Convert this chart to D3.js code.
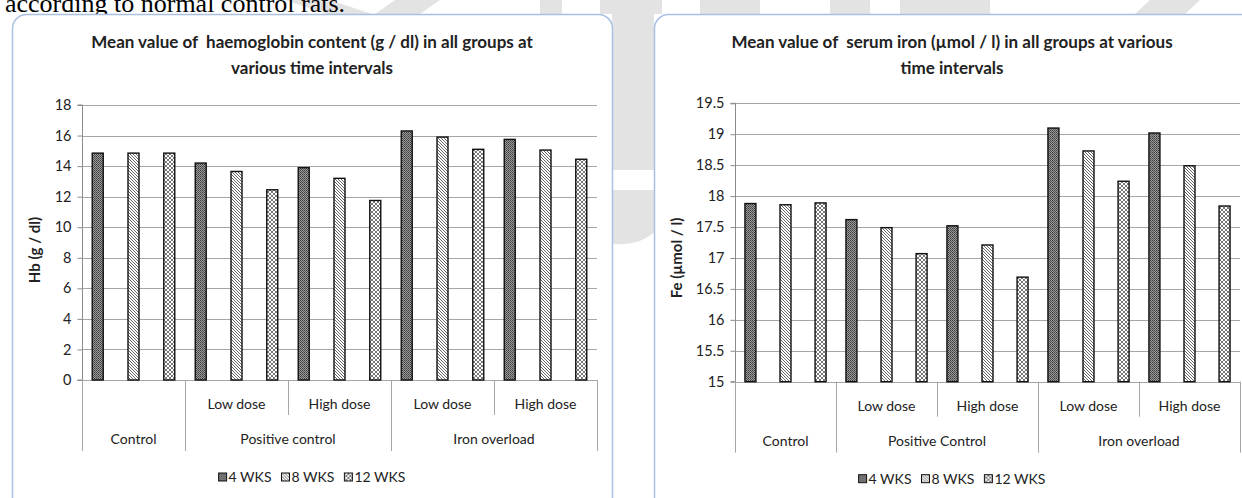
<!DOCTYPE html>
<html><head><meta charset="utf-8">
<script src="https://cdn.jsdelivr.net/npm/d3@7"></script>
<style>
html,body{margin:0;padding:0;background:#fff;}
svg{display:block;}
text{font-family:Lato,"Open Sans",sans-serif;fill:#222;}
</style></head>
<body>
<svg id="chart" width="1242" height="498"></svg>
<script>
// ---------- data ----------
const series = ["4 WKS", "8 WKS", "12 WKS"];
const slots = ["Control", "PC Low", "PC High", "IO Low", "IO High"];
const subLabels = ["", "Low dose", "High dose", "Low dose", "High dose"];
const groupSpans = [1, 2, 2];
const hbGroups = ["Control", "Positive control", "Iron overload"];
const feGroups = ["Control", "Positive Control", "Iron overload"];

const hb4  = [14.85, 14.2, 13.9, 16.3, 15.75];
const hb8  = [14.85, 13.65, 13.2, 15.9, 15.05];
const hb12 = [14.85, 12.45, 11.75, 15.1, 14.45];

const fe4  = [17.88, 17.62, 17.52, 19.1, 19.02];
const fe8  = [17.86, 17.49, 17.21, 18.73, 18.49];
const fe12 = [17.89, 17.07, 16.69, 18.24, 17.84];

const hbTicks = ["0", "2", "4", "6", "8", "10", "12", "14", "16", "18"];
const feTicks = ["15", "15.5", "16", "16.5", "17", "17.5", "18", "18.5", "19", "19.5"];

const hbTitle = ["Mean value of  haemoglobin content (g / dl) in all groups at", "various time intervals"];
const feTitle = ["Mean value of  serum iron (\u00b5mol / l) in all groups at various", "time intervals"];
const hbYLabel = "Hb (g / dl)";
const feYLabel = "Fe (\u00b5mol / l)";
const topText = "according to normal control rats.";

// ---------- svg ----------
const svg = d3.select("#chart");
const defs = svg.append("defs");

// patterns
const p4 = defs.append("pattern").attr("id", "pat0").attr("patternUnits", "userSpaceOnUse")
  .attr("width", 2).attr("height", 2);
p4.append("rect").attr("width", 2).attr("height", 2).attr("fill", "#9a9a9a");
p4.append("rect").attr("x", 0).attr("y", 0).attr("width", 1).attr("height", 1).attr("fill", "#3c3c3c");
p4.append("rect").attr("x", 1).attr("y", 1).attr("width", 1).attr("height", 1).attr("fill", "#555");

const p8 = defs.append("pattern").attr("id", "pat1").attr("patternUnits", "userSpaceOnUse")
  .attr("width", 3).attr("height", 3);
p8.append("rect").attr("width", 3).attr("height", 3).attr("fill", "#fff");
p8.append("path").attr("d", "M-1,-1L4,4M-1,2L1,4M2,-1L4,1")
  .attr("stroke", "#555").attr("stroke-width", 0.9);

const p12 = defs.append("pattern").attr("id", "pat2").attr("patternUnits", "userSpaceOnUse")
  .attr("width", 4).attr("height", 4);
p12.append("rect").attr("width", 4).attr("height", 4).attr("fill", "#fff");
p12.append("path").attr("d", "M0,0L4,4M0,4L4,0")
  .attr("stroke", "#555").attr("stroke-width", 0.8);

// ---------- background watermark ----------
const wm = svg.append("g").attr("fill", "#e3e3e3");
wm.append("polygon").attr("points", "285,0 330,0 372,14 327,14");
wm.append("polygon").attr("points", "395,0 440,0 420,14 375,14");
wm.append("rect").attr("x", 540).attr("y", 0).attr("width", 22).attr("height", 14);
wm.append("rect").attr("x", 600).attr("y", 0).attr("width", 62).attr("height", 14);
wm.append("rect").attr("x", 700).attr("y", 0).attr("width", 60).attr("height", 14);
wm.append("rect").attr("x", 830).attr("y", 0).attr("width", 40).attr("height", 14);
wm.append("rect").attr("x", 900).attr("y", 0).attr("width", 90).attr("height", 14);
wm.append("polygon").attr("points", "1150,0 1200,0 1185,14 1135,14");
wm.append("rect").attr("x", 612).attr("y", 0).attr("width", 42).attr("height", 170);
wm.append("path").attr("d", "M612,190H654V232Q640,246 612,244Z");

svg.append("text").attr("x", 5).attr("y", 12)
  .style("font-family", "'Liberation Serif','Times New Roman',serif")
  .style("font-size", "26px").style("fill", "#000").text(topText);

// ---------- chart function ----------
function drawChart(cfg) {
  const g = svg.append("g");
  // panel
  g.append("rect").attr("x", cfg.panel[0]).attr("y", cfg.panel[1])
    .attr("width", cfg.panel[2]).attr("height", cfg.panel[3])
    .attr("rx", 14).attr("fill", "#fff").attr("stroke", "#a9c0e4").attr("stroke-width", 1.5);

  const tickVals = cfg.ticks.map(Number);
  const y = d3.scaleLinear().domain([tickVals[0], tickVals[tickVals.length - 1]])
    .range([cfg.y1, cfg.y0]);
  const x = d3.scaleBand().domain(slots).range([cfg.x0, cfg.x1]).padding(0);
  const xs = d3.scalePoint().domain(series).range([0, x.bandwidth()]).padding(0.44);

  // gridlines
  g.append("g").selectAll("line").data(tickVals).join("line")
    .attr("x1", cfg.x0).attr("x2", cfg.x1)
    .attr("y1", d => Math.round(y(d)) + 0.5).attr("y2", d => Math.round(y(d)) + 0.5)
    .attr("stroke", "#a6a6a6").attr("stroke-width", 1);

  // y axis
  const ya = g.append("g").attr("transform", `translate(${cfg.x0 + 0.5},0)`)
    .call(d3.axisLeft(y).tickValues(tickVals).tickFormat((d, i) => cfg.ticks[i]).tickSize(5).tickPadding(6));
  ya.select(".domain").attr("stroke", "#8c8c8c").attr("d", `M-5,${y(tickVals[0])}H0V${y(tickVals[tickVals.length-1])}H-5`);
  ya.selectAll(".tick line").attr("stroke", "#8c8c8c");
  ya.selectAll(".tick text").style("font-family", "Lato,sans-serif").style("font-size", "14.5px").attr("fill", "#222");

  // bars
  const vals = [cfg.s4, cfg.s8, cfg.s12];
  const bw = 11;
  series.forEach((s, si) => {
    g.append("g").selectAll("rect").data(vals[si]).join("rect")
      .attr("x", (d, i) => x(slots[i]) + xs(s) - bw / 2)
      .attr("y", d => y(d))
      .attr("width", bw)
      .attr("height", d => y(tickVals[0]) - y(d))
      .attr("fill", `url(#pat${si})`)
      .attr("stroke", "#111").attr("stroke-width", 1.4);
  });

  // category axis separators
  const base = y(tickVals[0]);
  const groupEdges = [0];
  groupSpans.forEach(s => groupEdges.push(groupEdges[groupEdges.length - 1] + s));
  const bounds = d3.range(slots.length + 1);
  g.append("g").selectAll("line").data(bounds).join("line")
    .attr("x1", i => Math.round(i < slots.length ? x(slots[i]) : cfg.x1) + 0.5)
    .attr("x2", i => Math.round(i < slots.length ? x(slots[i]) : cfg.x1) + 0.5)
    .attr("y1", base)
    .attr("y2", i => base + (groupEdges.includes(i) ? 71 : 35))
    .attr("stroke", "#a6a6a6").attr("stroke-width", 1);

  // sub labels
  g.append("g").selectAll("text").data(subLabels).join("text")
    .attr("x", (d, i) => x(slots[i]) + x.bandwidth() / 2)
    .attr("y", base + 29)
    .attr("text-anchor", "middle")
    .style("font-size", "14px").text(d => d);

  // group labels
  g.append("g").selectAll("text").data(cfg.groups).join("text")
    .attr("x", (d, i) => {
      const a = x(slots[groupEdges[i]]);
      const b = groupEdges[i + 1] < slots.length ? x(slots[groupEdges[i + 1]]) : cfg.x1;
      return (a + b) / 2;
    })
    .attr("y", base + 64)
    .attr("text-anchor", "middle")
    .style("font-size", "14px").text(d => d);

  // title
  g.append("g").selectAll("text").data(cfg.title).join("text")
    .attr("x", cfg.cx).attr("y", (d, i) => 48 + i * 26)
    .attr("text-anchor", "middle")
    .style("white-space", "pre")
    .style("font-weight", "bold").style("font-size", "17px").attr("fill", "#000")
    .text(d => d);

  // y label
  g.append("text")
    .attr("transform", `translate(${cfg.ylx},${cfg.yly}) rotate(-90)`)
    .attr("text-anchor", "middle")
    .style("font-weight", "bold").style("font-size", "15px").attr("fill", "#000")
    .text(cfg.ylabel);

  // legend
  const lg = g.append("g");
  const items = lg.selectAll("g").data(series).join("g");
  items.append("rect").attr("width", 8).attr("height", 8).attr("y", -9)
    .attr("fill", (d, i) => `url(#pat${i})`).attr("stroke", "#111").attr("stroke-width", 1);
  items.append("text").attr("x", 10).attr("y", 0).style("font-size", "14px").text(d => d);
  let off = 0;
  const widths = [];
  items.each(function () {
    const w = this.querySelector("text").getComputedTextLength() + 10;
    widths.push(w);
  });
  const total = d3.sum(widths) + 10 * (widths.length - 1);
  items.attr("transform", (d, i) => {
    const t = `translate(${cfg.cx - total / 2 + off},${base + 102})`;
    off += widths[i] + 10;
    return t;
  });
}

drawChart({
  panel: [12.5, 14.5, 600, 520], cx: 312,
  x0: 82, x1: 597, y0: 105, y1: 380,
  ticks: hbTicks, s4: hb4, s8: hb8, s12: hb12,
  groups: hbGroups, title: hbTitle, ylabel: hbYLabel, ylx: 40, yly: 250
});
drawChart({
  panel: [654.5, 14.5, 620, 520], cx: 952,
  x0: 735, x1: 1240, y0: 103.3, y1: 381.7,
  ticks: feTicks, s4: fe4, s8: fe8, s12: fe12,
  groups: feGroups, title: feTitle, ylabel: feYLabel, ylx: 682, yly: 258
});
</script>
</body></html>
